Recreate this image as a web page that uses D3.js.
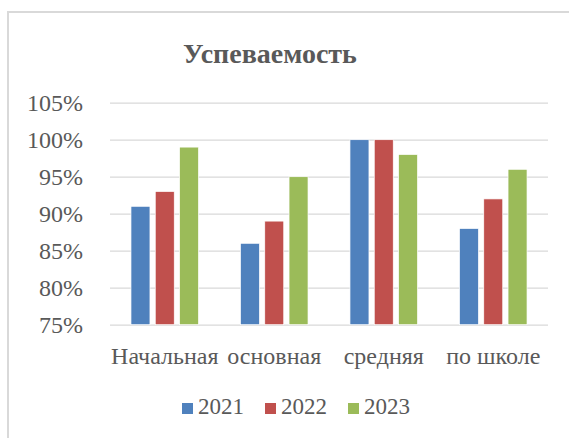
<!DOCTYPE html>
<html>
<head>
<meta charset="utf-8">
<script src="https://cdn.jsdelivr.net/npm/d3@7"></script>
<style>
    html, body { margin: 0; padding: 0; background: #fff; }
</style>
</head>
<body>
<div id="chart"></div>
<script>
var categories = ["Начальная", "основная", "средняя", "по школе"];
var years = ["2021", "2022", "2023"];
var values2021 = [0.91, 0.86, 1.00, 0.88];
var values2022 = [0.93, 0.89, 1.00, 0.92];
var values2023 = [0.99, 0.95, 0.98, 0.96];
var yTicks = [0.75, 0.80, 0.85, 0.90, 0.95, 1.00, 1.05];
var colors = ["#4f81bd", "#c0504d", "#9bbb59"];

var FONT = "'Liberation Serif', 'Times New Roman', serif";
var TEXT_COLOR = "#595959";

var series = [values2021, values2022, values2023];
var data = categories.map(function (c, i) {
    return { cat: c, vals: years.map(function (y, j) { return { year: y, value: series[j][i] }; }) };
});

var dim = { width: 569, height: 438, plot: { left: 110, right: 548, top: 102.7, bottom: 324.7 } };

var svg = d3.select("#chart").append("svg")
    .attr("width", dim.width)
    .attr("height", dim.height)
    .style("font-family", FONT);

// chart frame (runs off the right and bottom edges)
svg.append("rect")
    .attr("x", 8).attr("y", 12)
    .attr("width", 600).attr("height", 500)
    .attr("fill", "#fff")
    .attr("stroke", "#d9d9d9")
    .attr("stroke-width", 2);

svg.append("text")
    .attr("x", 270).attr("y", 63)
    .attr("text-anchor", "middle")
    .style("font-family", FONT)
    .style("font-size", "28px")
    .style("font-weight", "bold")
    .style("fill", TEXT_COLOR)
    .text("Успеваемость");

var x0 = d3.scaleBand()
    .domain(categories)
    .range([dim.plot.left, dim.plot.right])
    .paddingInner(0.383)
    .paddingOuter(0.1915);

var x1 = d3.scaleBand()
    .domain(years)
    .range([0, x0.bandwidth()])
    .paddingInner(0.218);

var y = d3.scaleLinear()
    .domain([0.75, 1.05])
    .range([dim.plot.bottom, dim.plot.top]);

var yAxis = d3.axisLeft(y)
    .tickValues(yTicks)
    .tickFormat(d3.format(".0%"))
    .tickSize(-(dim.plot.right - dim.plot.left))
    .tickPadding(27);

var gy = svg.append("g")
    .attr("transform", "translate(" + dim.plot.left + ",0)")
    .call(yAxis)
    .attr("font-family", null)
    .attr("font-size", null);
gy.select(".domain").remove();
gy.selectAll(".tick line").attr("stroke", "#d9d9d9").attr("stroke-width", 1.3);
gy.selectAll(".tick text")
    .style("font-family", FONT)
    .style("font-size", "24px")
    .style("fill", TEXT_COLOR);

var groups = svg.append("g").selectAll("g")
    .data(data)
    .enter().append("g")
    .attr("transform", function (d) { return "translate(" + x0(d.cat) + ",0)"; });

groups.selectAll("rect")
    .data(function (d) { return d.vals; })
    .enter().append("rect")
    .attr("x", function (d) { return x1(d.year); })
    .attr("y", function (d) { return y(d.value); })
    .attr("width", x1.bandwidth())
    .attr("height", function (d) { return y(0.75) - y(d.value); })
    .attr("fill", function (d, i) { return colors[i]; })
    .attr("stroke", "#ffffff")
    .attr("stroke-width", 0.7);

var xAxis = d3.axisBottom(x0).tickSize(0).tickPadding(22);
var gx = svg.append("g")
    .attr("transform", "translate(0," + dim.plot.bottom + ")")
    .call(xAxis)
    .attr("font-family", null)
    .attr("font-size", null);
gx.select(".domain").remove();
gx.selectAll(".tick text")
    .style("font-family", FONT)
    .style("font-size", "24px")
    .style("fill", TEXT_COLOR);

// legend
var legendX = [182, 265, 348];
var legend = svg.append("g").selectAll("g")
    .data(years)
    .enter().append("g")
    .attr("transform", function (d, i) { return "translate(" + legendX[i] + ",403)"; });

legend.append("rect")
    .attr("width", 11).attr("height", 11)
    .attr("fill", function (d, i) { return colors[i]; });

legend.append("text")
    .attr("x", 16).attr("y", 11)
    .style("font-family", FONT)
    .style("font-size", "23px")
    .style("fill", TEXT_COLOR)
    .text(function (d) { return d; });
</script>
</body>
</html>
